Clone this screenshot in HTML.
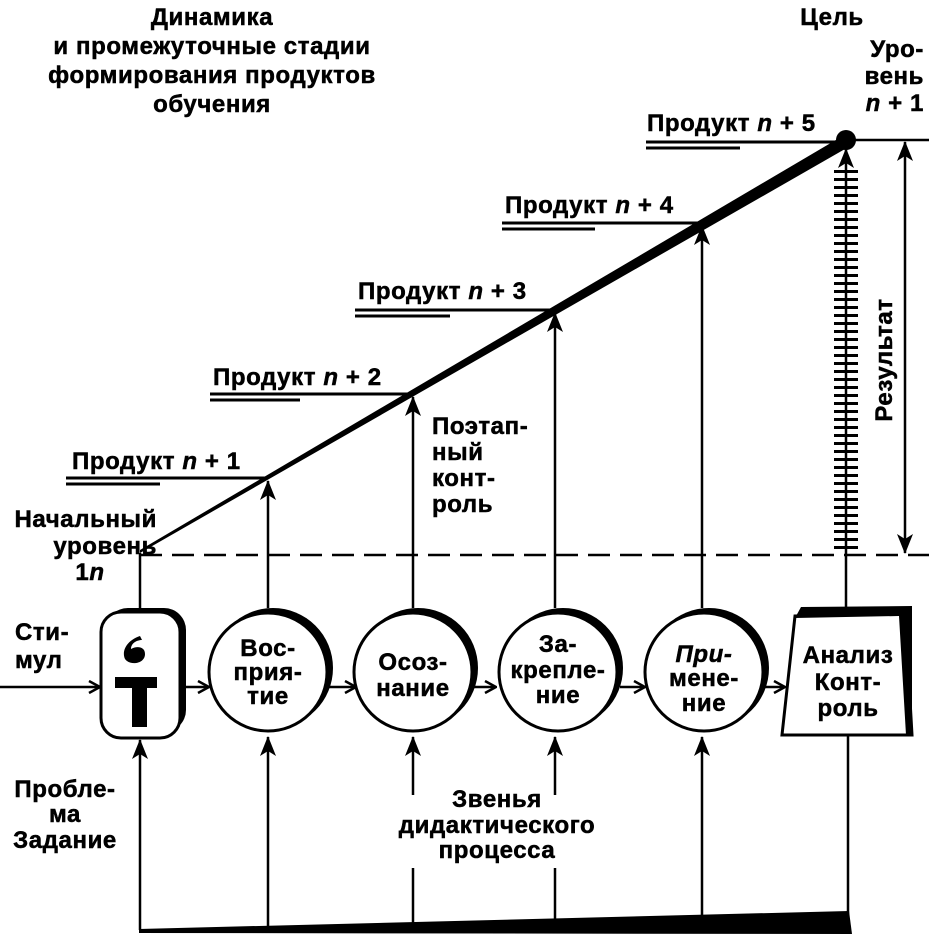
<!DOCTYPE html>
<html><head><meta charset="utf-8"><style>
html,body{margin:0;padding:0;background:#fff;}
svg{display:block;}
text{font-family:"Liberation Sans",Arial,sans-serif;font-weight:bold;font-size:24px;letter-spacing:0.6px;fill:#000;stroke:#000;stroke-width:0.5px;}
</style></head><body>
<svg width="929" height="939" viewBox="0 0 929 939" xmlns="http://www.w3.org/2000/svg">
<defs>
<marker id="ah" markerWidth="20" markerHeight="16" refX="19" refY="8" orient="auto-start-reverse" markerUnits="userSpaceOnUse" viewBox="0 0 20 16">
<path d="M0,0 L20,8 L0,16 L5,8 Z" fill="#000"/>
</marker>
<marker id="ar" markerWidth="14" markerHeight="14" refX="13" refY="7" orient="auto" markerUnits="userSpaceOnUse">
<path d="M2,1 L13,7 L2,13" fill="none" stroke="#000" stroke-width="2.5"/>
</marker>
</defs>

<!-- Title -->
<text x="212" y="25" text-anchor="middle">Динамика</text>
<text x="212" y="54" text-anchor="middle">и промежуточные стадии</text>
<text x="212" y="83" text-anchor="middle">формирования продуктов</text>
<text x="212" y="112" text-anchor="middle">обучения</text>
<text x="832" y="25" text-anchor="middle">Цель</text>
<text x="924" y="57" text-anchor="end">Уро-</text>
<text x="924" y="84" text-anchor="end">вень</text>
<text x="924" y="111" text-anchor="end"><tspan font-style="italic">n</tspan> + 1</text>

<!-- main ascending line (thickening) -->
<polygon points="140,553 140,550 846,134 852,145" fill="#000"/>
<circle cx="846" cy="140" r="10" fill="#000"/>
<line x1="846" y1="140" x2="929" y2="140" stroke="#000" stroke-width="2.5"/>

<!-- product lines -->
<g stroke="#000" stroke-width="3">
<line x1="66" y1="478" x2="268" y2="478"/><line x1="66" y1="484" x2="160" y2="484"/>
<line x1="210" y1="394" x2="413" y2="394"/><line x1="210" y1="400" x2="300" y2="400"/>
<line x1="355" y1="310" x2="555" y2="310"/><line x1="355" y1="316" x2="450" y2="316"/>
<line x1="502" y1="223" x2="702" y2="223"/><line x1="502" y1="229" x2="595" y2="229"/>
<line x1="646" y1="142" x2="846" y2="142"/><line x1="646" y1="148" x2="740" y2="148"/>
</g>
<text x="72" y="469">Продукт <tspan font-style="italic">n</tspan> + 1</text>
<text x="213" y="385">Продукт <tspan font-style="italic">n</tspan> + 2</text>
<text x="358" y="299">Продукт <tspan font-style="italic">n</tspan> + 3</text>
<text x="505" y="213">Продукт <tspan font-style="italic">n</tspan> + 4</text>
<text x="647" y="131">Продукт <tspan font-style="italic">n</tspan> + 5</text>

<!-- dashed baseline -->
<line x1="140" y1="555" x2="929" y2="555" stroke="#000" stroke-width="2.5" stroke-dasharray="22 10"/>
<line x1="140" y1="553" x2="140" y2="612" stroke="#000" stroke-width="2.5"/>

<text x="157" y="527" text-anchor="end">Начальный</text>
<text x="157" y="554" text-anchor="end">уровень</text>
<text x="90" y="580" text-anchor="middle">1<tspan font-style="italic">n</tspan></text>

<!-- vertical up arrows to products -->
<g stroke="#000" stroke-width="2.5">
<line x1="268" y1="608" x2="268" y2="481" marker-end="url(#ah)"/>
<line x1="413" y1="608" x2="413" y2="397" marker-end="url(#ah)"/>
<line x1="555" y1="608" x2="555" y2="313" marker-end="url(#ah)"/>
<line x1="702" y1="608" x2="702" y2="226" marker-end="url(#ah)"/>
<line x1="846" y1="612" x2="846" y2="149" marker-end="url(#ah)"/>
</g>
<!-- ladder -->
<line x1="846" y1="170" x2="846" y2="552" stroke="#000" stroke-width="24" stroke-dasharray="3 5"/>
<!-- result arrow -->
<line x1="905" y1="142" x2="905" y2="553" stroke="#000" stroke-width="2.5" marker-start="url(#ah)" marker-end="url(#ah)"/>
<text transform="translate(892,360) rotate(-90)" text-anchor="middle">Результат</text>

<text x="432" y="434">Поэтап-</text>
<text x="432" y="460">ный</text>
<text x="432" y="486">конт-</text>
<text x="432" y="512">роль</text>

<!-- horizontal arrows -->
<g stroke="#000" stroke-width="2.5">
<line x1="0" y1="687" x2="100" y2="687" marker-end="url(#ar)"/>
<line x1="180" y1="687" x2="209" y2="687" marker-end="url(#ar)"/>
<line x1="328" y1="687" x2="356" y2="687" marker-end="url(#ar)"/>
<line x1="472" y1="687" x2="496" y2="687" marker-end="url(#ar)"/>
<line x1="620" y1="687" x2="645" y2="687" marker-end="url(#ar)"/>
<line x1="765" y1="687" x2="785" y2="687" marker-end="url(#ar)"/>
</g>
<text x="15" y="640">Сти-</text>
<text x="15" y="668">мул</text>

<!-- stimulus box -->
<rect x="106" y="608" width="80" height="124" rx="22" fill="#000"/>
<rect x="101" y="612" width="79" height="126" rx="20" fill="#fff" stroke="#000" stroke-width="3"/>
<path d="M140,636 C128,640 121,650 125,659 C130,666 145,664 145,654 C145,646 136,646 131,649 C131,643 137,640 142,640 Z" fill="#000"/>
<rect x="115" y="677" width="42" height="11" fill="#000"/>
<rect x="132" y="686" width="15" height="41" fill="#000"/>

<!-- circles -->
<g>
<circle cx="273" cy="668" r="60" fill="#000"/>
<circle cx="268" cy="672" r="59" fill="#fff" stroke="#000" stroke-width="3"/>
<circle cx="418" cy="668" r="60" fill="#000"/>
<circle cx="413" cy="672" r="59" fill="#fff" stroke="#000" stroke-width="3"/>
<circle cx="563" cy="668" r="60" fill="#000"/>
<circle cx="558" cy="672" r="59" fill="#fff" stroke="#000" stroke-width="3"/>
<circle cx="709" cy="668" r="60" fill="#000"/>
<circle cx="704" cy="672" r="59" fill="#fff" stroke="#000" stroke-width="3"/>
</g>
<text x="268" y="656" text-anchor="middle">Вос-</text>
<text x="268" y="680" text-anchor="middle">прия-</text>
<text x="268" y="704" text-anchor="middle">тие</text>
<text x="413" y="670" text-anchor="middle">Осоз-</text>
<text x="413" y="696" text-anchor="middle">нание</text>
<text x="558" y="652" text-anchor="middle">За-</text>
<text x="558" y="678" text-anchor="middle">крепле-</text>
<text x="558" y="703" text-anchor="middle">ние</text>
<text x="704" y="662" text-anchor="middle" font-style="italic">При-</text>
<text x="704" y="686" text-anchor="middle">мене-</text>
<text x="704" y="711" text-anchor="middle">ние</text>

<!-- trapezoid -->
<polygon points="795,616 905,612 912,735 782,735" fill="#fff" stroke="#000" stroke-width="3"/>
<polygon points="795,618 801,607 912,606 912,735 906,735 899,616" fill="#000"/>
<text x="848" y="663" text-anchor="middle">Анализ</text>
<text x="848" y="690" text-anchor="middle">Конт-</text>
<text x="848" y="716" text-anchor="middle">роль</text>

<!-- bottom lines -->
<g stroke="#000" stroke-width="2.5">
<line x1="140" y1="930" x2="140" y2="740" marker-end="url(#ah)"/>
<line x1="268" y1="930" x2="268" y2="737" marker-end="url(#ah)"/>
<line x1="413" y1="795" x2="413" y2="737" marker-end="url(#ah)"/>
<line x1="413" y1="930" x2="413" y2="868"/>
<line x1="555" y1="795" x2="555" y2="737" marker-end="url(#ah)"/>
<line x1="555" y1="930" x2="555" y2="868"/>
<line x1="702" y1="930" x2="702" y2="737" marker-end="url(#ah)"/>
<line x1="848" y1="930" x2="848" y2="736"/>
</g>
<polygon points="139,929 849,911 852,934 139,933" fill="#000"/>

<text x="65" y="797" text-anchor="middle">Пробле-</text>
<text x="65" y="822" text-anchor="middle">ма</text>
<text x="65" y="848" text-anchor="middle">Задание</text>
<text x="497" y="807" text-anchor="middle">Звенья</text>
<text x="497" y="833" text-anchor="middle">дидактического</text>
<text x="497" y="858" text-anchor="middle">процесса</text>
</svg>
</body></html>
